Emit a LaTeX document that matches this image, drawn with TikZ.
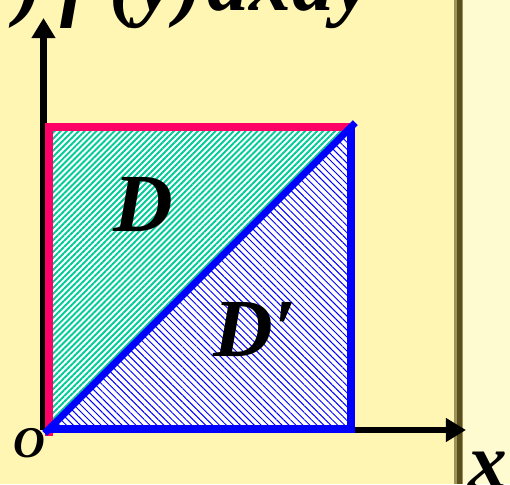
\documentclass[tikz,border=0pt]{standalone}
\usepackage{fontspec}
\setmainfont{Liberation Serif}
\usetikzlibrary{
  arrows.meta,
  patterns.meta,
  positioning
}
\definecolor{slidecolor}{RGB}{255, 246, 180}
\definecolor{panelcolor}{RGB}{255, 251, 208}
\definecolor{edgecolor}{RGB}{90, 80, 30}
\definecolor{pinkcolor}{RGB}{255, 0, 102}
\definecolor{regioncolor}{RGB}{0, 204, 153}
\definecolor{bluecolor}{RGB}{0, 0, 255}
\tikzset{
axis/.style={
  -{Triangle[length=11.5pt,width=13pt]},
  line width=3.7pt,
  draw=black
},
edgeD/.style={
  line width=4pt,
  draw=pinkcolor
},
edgeDp/.style={
  line width=4pt,
  draw=bluecolor
},
greenfill/.style={
  fill=white,
  postaction={pattern={Lines[angle=45,distance=2.4pt,line width=1.1pt]},
    pattern color=regioncolor}
},
bluefill/.style={
  fill=white,
  postaction={pattern={Lines[angle=-45,distance=2.8pt,line width=0.55pt]},
    pattern color=bluecolor}
},
regionlabel/.style={
  font=\fontsize{47}{50}\selectfont\bfseries\itshape,
  inner sep=0pt
},
axislabel/.style={
  font=\fontsize{48}{52}\selectfont\bfseries\itshape,
  inner sep=0pt
},
originlabel/.style={
  font=\fontsize{25}{28}\selectfont\bfseries\itshape,
  inner sep=0pt
}
}

\begin{document}
\begin{tikzpicture}[x=0.02cm, y=0.02cm]
  \useasboundingbox (0,0) rectangle (510,484);
  \clip (0,0) rectangle (510,484);

  % slide background
  \fill[slidecolor] (0,0) rectangle (510,484);
  \fill[panelcolor] (461,0) rectangle (510,484);
  \fill[edgecolor!60!slidecolor] (454,0) rectangle (463,484);
  \fill[edgecolor] (457,0) rectangle (461.5,484);

  \coordinate (o) at (43.5,54);
  \coordinate (xend) at (466,54);
  \coordinate (yend) at (43.5,466);
  \coordinate (sw) at (49,55);
  \coordinate (nw) at (49,357);
  \coordinate (ne) at (351,357);
  \coordinate (se) at (351,55);

  \node[axislabel, anchor=base east] (formula) at (372,473)
    {x\hspace{0.25em})\hspace{0.2em}f\hspace{0.25em}(y)\hspace{0.05em}dxdy};

  \draw[axis] (o) -- (xend);
  \draw[axis] (o) -- (yend);

  \fill[greenfill] (sw) -- (nw) -- (ne) -- cycle;
  \fill[bluefill] (sw) -- (se) -- (ne) -- cycle;

  \draw[edgeD, shorten <=-4pt] (sw) -- (nw) -- (ne);
  \draw[edgeDp] (sw) -- (se) -- (ne);
  \draw[edgeDp, shorten <=-3.5pt, shorten >=-3.5pt] (sw) -- (ne);

  \node[regionlabel] (labD) at (143,279) {D};
  \node[regionlabel] (labDp) at (255,154) {D′};
  \node[originlabel] (labO) at (29,41) {O};
  \node[axislabel, font=\fontsize{44}{48}\selectfont\bfseries\itshape, anchor=base] (labx) at (488,-3) {x};
\end{tikzpicture}
\end{document}
